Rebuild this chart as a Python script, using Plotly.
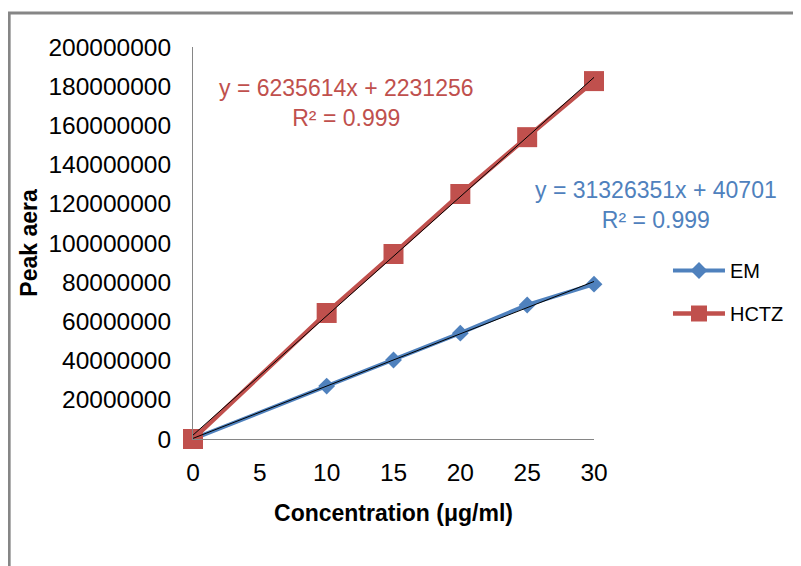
import numpy as np
import plotly.graph_objects as go

concentration = [0, 10, 15, 20, 25, 30]
em_area = [0, 27000000, 40300000, 54000000, 68400000, 79000000]
hctz_area = [0, 64300000, 94400000, 125000000, 154000000, 182600000]

x_ticks = [0, 5, 10, 15, 20, 25, 30]
y_ticks = [0, 20000000, 40000000, 60000000, 80000000, 100000000,
           120000000, 140000000, 160000000, 180000000, 200000000]

em_eq = "y = 31326351x + 40701<br>R² = 0.999"
hctz_eq = "y = 6235614x + 2231256<br>R² = 0.999"

BLUE = "#4F81BD"
RED = "#C0504D"
FONT = "Liberation Sans, Arial, sans-serif"

fig = go.Figure()

fig.add_trace(go.Scatter(
    x=concentration, y=em_area, name="EM", mode="lines+markers",
    line=dict(color=BLUE, width=4), legendgroup="em",
    marker=dict(symbol="diamond", size=13, color=BLUE), cliponaxis=False))
fig.add_trace(go.Scatter(
    x=concentration, y=hctz_area, name="HCTZ", mode="lines+markers",
    line=dict(color=RED, width=4.5), legendgroup="hctz",
    marker=dict(symbol="square", size=20, color=RED), cliponaxis=False))

# linear trendlines
xs = np.array([concentration[0], concentration[-1]], dtype=float)
for ys in (em_area, hctz_area):
    m, b = np.polyfit(concentration, ys, 1)
    fig.add_trace(go.Scatter(x=xs, y=m * xs + b, mode="lines",
                             line=dict(color="black", width=1),
                             showlegend=False, hoverinfo="skip", cliponaxis=False))

fig.add_annotation(text=hctz_eq, xref="paper", yref="paper", x=0.384, y=0.857,
                   xanchor="center", yanchor="middle",
                   showarrow=False, font=dict(family=FONT, size=23, color=RED),
                   align="center")
fig.add_annotation(text=em_eq, xref="paper", yref="paper", x=1.155, y=0.597,
                   xanchor="center", yanchor="middle",
                   showarrow=False, font=dict(family=FONT, size=23, color=BLUE),
                   align="center")

# outer chart border
fig.add_shape(type="rect", xref="paper", yref="paper",
              x0=-0.4585, x1=1.7, y0=-0.6, y1=1.0865,
              line=dict(color="#868686", width=3), layer="below")

fig.update_layout(
    width=793, height=558,
    margin=dict(l=185, r=207, t=39, b=127),
    paper_bgcolor="white", plot_bgcolor="white",
    font=dict(family=FONT, size=24, color="black"),
    showlegend=True,
    legend=dict(x=1.1845, y=0.375, xanchor="left", yanchor="middle",
                font=dict(family=FONT, size=20, color="black"),
                itemwidth=52,
                tracegroupgap=14, bgcolor="rgba(0,0,0,0)"),
    xaxis=dict(range=[0, 30], tickvals=x_ticks, showgrid=False, zeroline=False,
               showline=True, linecolor="#868686", linewidth=1, ticks="",
               ticklabelstandoff=12, tickfont=dict(size=24.5),
               title=dict(text="<b>Concentration (μg/ml)</b>", standoff=19,
                          font=dict(size=23))),
    yaxis=dict(range=[0, 200000000], tickvals=y_ticks, showgrid=False, zeroline=False,
               showline=True, linecolor="#868686", linewidth=1, ticks="",
               tickformat="d", ticklabelstandoff=16, tickfont=dict(size=24.5),
               title=dict(text="<b>Peak aera</b>", standoff=4, font=dict(size=23))),
)

fig.write_html("out.html")
